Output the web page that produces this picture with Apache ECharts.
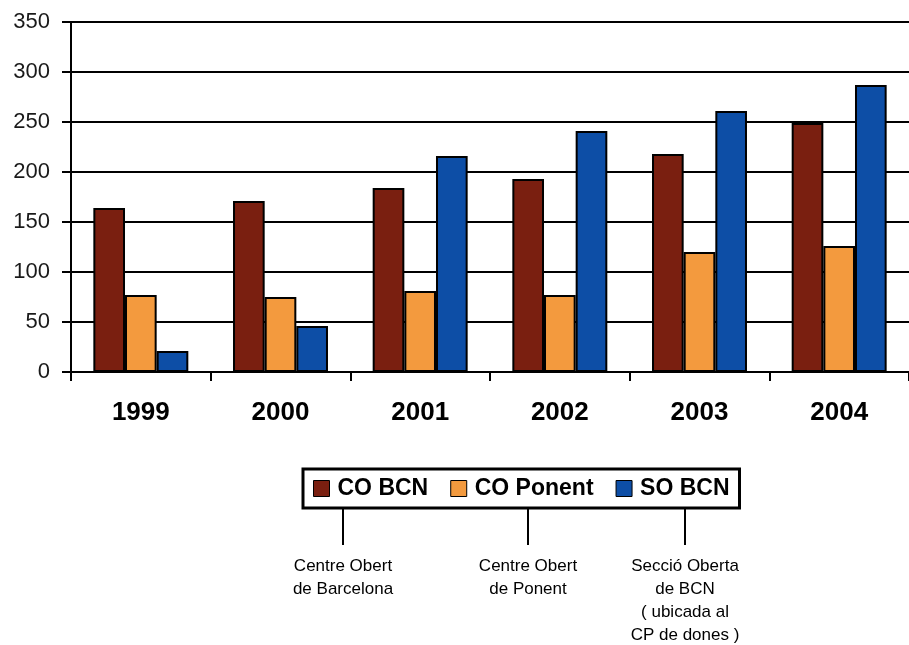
<!DOCTYPE html>
<html>
<head>
<meta charset="utf-8">
<script src="https://cdn.jsdelivr.net/npm/echarts@6/dist/echarts.min.js"></script>
<style>
html,body{margin:0;padding:0;background:#fff;}
#chart{width:909px;height:645px;}
</style>
</head>
<body>
<div id="chart"></div>
<script>
var categories = ['1999', '2000', '2001', '2002', '2003', '2004'];
var seriesNames = ['CO BCN', 'CO Ponent', 'SO BCN'];
var coBcn = [164, 171, 184, 193, 218, 249];
var coPonent = [77, 75, 81, 77, 120, 126];
var soBcn = [21, 46, 216, 241, 261, 287];
var yTicks = [0, 50, 100, 150, 200, 250, 300, 350];
var notes = ['Centre Obert\nde Barcelona', 'Centre Obert\nde Ponent', 'Secció Oberta\nde BCN\n( ubicada al\nCP de dones )'];

var colors = ['#7a1f10', '#f39a3e', '#0d4ea6'];
var FONT = '"Liberation Sans", Arial, sans-serif';

var chart = echarts.init(document.getElementById('chart'), null, {renderer: 'canvas'});

var values = [coBcn, coPonent, soBcn];
var series = seriesNames.map(function (n, i) {
  return {
    name: n,
    type: 'bar',
    data: values[i],
    barGap: '0%',
    barCategoryGap: '32%',
    itemStyle: {color: colors[i], borderColor: '#000', borderWidth: 2},
    emphasis: {disabled: true}
  };
});

var noteX = [343, 528, 685];
var graphics = [];
noteX.forEach(function (x, i) {
  graphics.push({
    type: 'line',
    shape: {x1: x, y1: 509, x2: x, y2: 545},
    style: {stroke: '#000', lineWidth: 2}
  });
  graphics.push({
    type: 'text',
    x: x,
    y: 555,
    style: {
      text: notes[i],
      fill: '#000',
      font: '17px ' + FONT,
      textAlign: 'center',
      textVerticalAlign: 'top',
      lineHeight: 23
    }
  });
});

chart.setOption({
  animation: false,
  backgroundColor: '#fff',
  color: colors,
  grid: {left: 71, right: -6, top: 22, bottom: 273, containLabel: false},
  legend: {
    data: seriesNames,
    left: 303,
    top: 469,
    orient: 'horizontal',
    padding: [8, 10, 8, 10],
    itemGap: 22,
    itemWidth: 16,
    itemHeight: 16,
    borderColor: '#000',
    borderWidth: 3,
    backgroundColor: '#fff',
    icon: 'rect',
    itemStyle: {borderColor: '#000', borderWidth: 1},
    textStyle: {fontFamily: FONT, fontSize: 23, fontWeight: 'bold', color: '#000', padding: [0, 0, 0, 3]},
    selectedMode: false
  },
  xAxis: {
    type: 'category',
    data: categories,
    axisLine: {lineStyle: {color: '#000', width: 2}},
    axisTick: {show: true, length: 9, lineStyle: {color: '#000', width: 2}},
    axisLabel: {fontFamily: FONT, fontSize: 26, fontWeight: 'bold', color: '#000', margin: 28},
    splitLine: {show: false}
  },
  yAxis: {
    type: 'value',
    min: yTicks[0],
    max: yTicks[yTicks.length - 1],
    interval: 50,
    axisLine: {show: true, lineStyle: {color: '#000', width: 2}},
    axisTick: {show: true, length: 9, lineStyle: {color: '#000', width: 2}},
    axisLabel: {fontFamily: FONT, fontSize: 22, color: '#1a1a1a', margin: 21},
    splitLine: {show: true, lineStyle: {color: '#000', width: 2}}
  },
  series: series,
  graphic: graphics
});
</script>
</body>
</html>
